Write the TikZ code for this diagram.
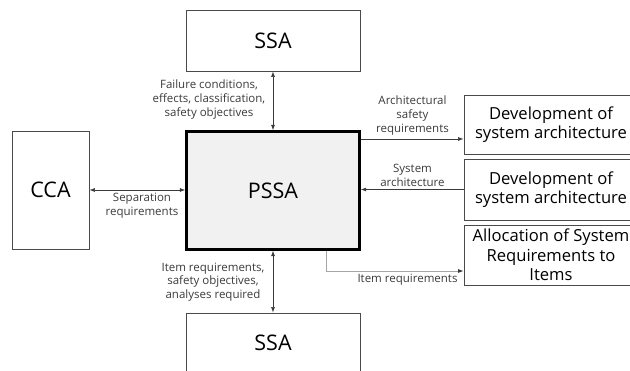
\documentclass[tikz,border=0pt]{standalone}
\usepackage{fontspec}
\setmainfont{Open Sans}
\usetikzlibrary{arrows.meta}
\definecolor{bordergray}{HTML}{4A4A4A}
\definecolor{labelgray}{HTML}{3A3A3A}
\definecolor{pssafill}{HTML}{F1F1F1}
\begin{document}
\begin{tikzpicture}[x=1pt,y=-1pt,
  box/.style={draw=bordergray, line width=0.9pt, fill=white, inner sep=0pt, align=center},
  bigtxt/.style={font=\fontsize{21.5}{24}\selectfont},
  medtxt/.style={font=\fontsize{16.6}{19.5}\selectfont},
  lbl/.style={text=labelgray, align=center, inner sep=0pt, font=\fontsize{11.5}{13.8}\selectfont},
  conn/.style={draw=labelgray, line width=0.6pt},
  tip/.style={-{Latex[length=5.5pt,width=4pt]}},
  dtip/.style={{Latex[length=5.5pt,width=4pt]}-{Latex[length=5.5pt,width=4pt]}}]
\path[use as bounding box] (0,0) rectangle (630,371);
\clip (0,0) rectangle (630,371);
% boxes
\node[box, bigtxt, minimum width=174pt, minimum height=61pt] (ssa1) at (273,40.5) {SSA};
\node[box, bigtxt, draw=black, line width=2.4pt, fill=pssafill, minimum width=173pt, minimum height=118pt] (pssa) at (273,190.5) {PSSA};
\node[box, bigtxt, minimum width=77pt, minimum height=118pt] (cca) at (50.5,190) {CCA};
\node[box, bigtxt, minimum width=174pt, minimum height=60pt] (ssa2) at (273,343) {SSA};
\node[box, medtxt, minimum width=174pt, minimum height=59pt] (dev1) at (551,124.5) {Development of\\system architecture};
\node[box, medtxt, minimum width=174pt, minimum height=61pt] (dev2) at (551,189.5) {Development of\\system architecture};
\node[box, medtxt, minimum width=174pt, minimum height=60pt] (alloc) at (551,255) {Allocation of System\\Requirements to\\Items};
% helper coordinates
\coordinate (a1) at ([yshift=-14.5pt]dev1.west);
\coordinate (b1) at ([yshift=-16pt]alloc.west);
\coordinate (b0) at ([xshift=53pt]pssa.south);
% connectors
\draw[conn, dtip] (ssa1.south) -- (pssa.north);
\draw[conn, dtip] (cca.east) -- (cca.east -| pssa.west);
\draw[conn, tip] (pssa.east |- a1) -- (a1);
\draw[conn, tip] (dev2.west) -- (dev2.west -| pssa.east);
\draw[draw=gray!70, line width=0.7pt, -{Latex[length=5.5pt,width=4pt,color=labelgray]}] (b0) |- (b1);
\draw[conn, dtip] (pssa.south) -- (ssa2.north);
% labels
\node[lbl] (lfail) at (209,99.5) {Failure conditions,\\effects, classification,\\safety objectives};
\node[lbl] (larch) at (412.5,115.5) {Architectural\\safety\\requirements};
\node[lbl] (lsys) at (412.5,175) {System\\architecture};
\node[lbl] (lsep) at (142,206) {Separation\\requirements};
\node[lbl] (litem) at (213,282) {Item requirements,\\safety objectives,\\analyses required};
\node[lbl] (litem2) at (407.5,279.5) {Item requirements};
\end{tikzpicture}
\end{document}
